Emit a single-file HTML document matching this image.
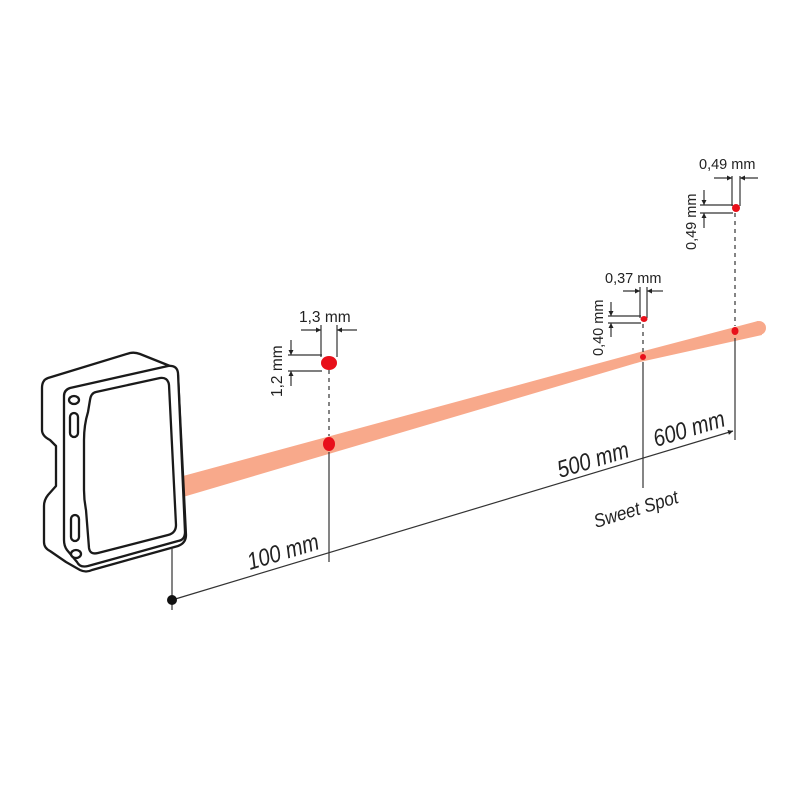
<!DOCTYPE html>
<html><head><style>
html,body{margin:0;padding:0;background:#fff;}
svg{display:block;}
text{font-family:"Liberation Sans",sans-serif;fill:#222;}
</style></head><body>
<svg width="800" height="800" viewBox="0 0 800 800" xmlns="http://www.w3.org/2000/svg">
<defs>
<marker id="ar" viewBox="0 0 10 10" refX="10" refY="5" markerWidth="7" markerHeight="5" orient="auto-start-reverse" markerUnits="userSpaceOnUse"><path d="M0,0 L10,5 L0,10 z" fill="#222"/></marker>
</defs>
<!-- beam -->
<polygon points="183,476 640,352 758,321 762,335 640,362 183,497" fill="#f8a98b"/>
<circle cx="759" cy="328" r="7" fill="#f8a98b"/>
<!-- sensor -->
<g fill="#fff" stroke="#1a1a1a" stroke-width="2.3" stroke-linejoin="round">
<path d="M48,378 Q42,380 42,388 L42,430 Q42,436 50,440 L56,446 L56,486 L48,495 Q44,500 44,506 L44,542 Q44,548 50,551 L66,562 L80,570 Q86,573 92,570 L178,546 Q186,543 186,535 L178,375 Q177,368 170,366 L140,354 Q135,352 130,353 Z"/>
<path d="M70,388 L168,366 Q177,365 178,373 L185,532 Q185,540 178,541 L88,566 Q80,568 77,562 L67,550 Q64,546 64,540 L64,396 Q64,390 70,388 Z"/>
<path d="M96,392 L160,378 Q168,377 169,385 L176,525 Q176,533 168,535 L98,553 Q90,555 89,548 L86,510 Q84,500 84,490 L84,440 Q84,425 88,412 L90,400 Q91,393 96,392 Z"/>
<ellipse cx="74" cy="400" rx="5" ry="4"/>
<rect x="70" y="413" width="8" height="24" rx="4"/>
<rect x="71" y="515" width="8" height="26" rx="4"/>
<ellipse cx="76" cy="554" rx="5" ry="4"/>
</g>
<!-- dimension lines -->
<g stroke="#333" stroke-width="1.2" fill="none">
<line x1="172" y1="548" x2="172" y2="610"/>
<line x1="172" y1="600" x2="733" y2="431" marker-end="url(#ar)"/>
<line x1="329" y1="452" x2="329" y2="562"/>
<line x1="643" y1="362" x2="643" y2="488"/>
<line x1="735" y1="338" x2="735" y2="440"/>
<g stroke-dasharray="4,4">
<line x1="329" y1="370" x2="329" y2="436"/>
<line x1="643" y1="324" x2="643" y2="354"/>
<line x1="735" y1="213" x2="735" y2="326"/>
</g>
<line x1="321" y1="325" x2="321" y2="357"/>
<line x1="337" y1="325" x2="337" y2="357"/>
<line x1="301" y1="330" x2="321" y2="330" marker-end="url(#ar)"/>
<line x1="357" y1="330" x2="337" y2="330" marker-end="url(#ar)"/>
<line x1="288" y1="355" x2="322" y2="355"/>
<line x1="288" y1="371" x2="322" y2="371"/>
<line x1="291" y1="340" x2="291" y2="355" marker-end="url(#ar)"/>
<line x1="291" y1="386" x2="291" y2="371" marker-end="url(#ar)"/>
<line x1="640" y1="287" x2="640" y2="318"/>
<line x1="647" y1="287" x2="647" y2="318"/>
<line x1="623" y1="291" x2="640" y2="291" marker-end="url(#ar)"/>
<line x1="663" y1="291" x2="647" y2="291" marker-end="url(#ar)"/>
<line x1="608" y1="316" x2="641" y2="316"/>
<line x1="608" y1="323" x2="641" y2="323"/>
<line x1="611" y1="302" x2="611" y2="316" marker-end="url(#ar)"/>
<line x1="611" y1="337" x2="611" y2="323" marker-end="url(#ar)"/>
<line x1="732" y1="176" x2="732" y2="206"/>
<line x1="740" y1="176" x2="740" y2="206"/>
<line x1="714" y1="178" x2="732" y2="178" marker-end="url(#ar)"/>
<line x1="758" y1="178" x2="740" y2="178" marker-end="url(#ar)"/>
<line x1="700" y1="205" x2="733" y2="205"/>
<line x1="700" y1="213" x2="733" y2="213"/>
<line x1="704" y1="190" x2="704" y2="205" marker-end="url(#ar)"/>
<line x1="704" y1="228" x2="704" y2="213" marker-end="url(#ar)"/>
</g>
<circle cx="172" cy="600" r="5" fill="#111"/>
<g fill="#e8101a">
<ellipse cx="329" cy="444" rx="6" ry="7"/>
<ellipse cx="329" cy="363" rx="8" ry="7"/>
<ellipse cx="643" cy="357" rx="3" ry="3"/>
<ellipse cx="644" cy="319" rx="3.5" ry="3"/>
<ellipse cx="735" cy="331" rx="3.5" ry="4"/>
<ellipse cx="736" cy="208" rx="4" ry="4"/>
</g>
<text x="299" y="322" font-size="15.5">1,3 mm</text>
<text transform="translate(282,397) rotate(-90)" font-size="15.5">1,2 mm</text>
<text x="605" y="283" font-size="14.5">0,37 mm</text>
<text transform="translate(603,356) rotate(-90)" font-size="14.5">0,40 mm</text>
<text x="699" y="169" font-size="14.5">0,49 mm</text>
<text transform="translate(696,250) rotate(-90)" font-size="14.5">0,49 mm</text>
<g font-size="24" font-style="italic">
<text transform="translate(250,570) rotate(-16.8) scale(0.85,1)">100 mm</text>
<text transform="translate(560,478) rotate(-16.8) scale(0.85,1)">500 mm</text>
<text transform="translate(656,447) rotate(-16.8) scale(0.85,1)">600 mm</text>
</g>
<text transform="translate(596,528) rotate(-17) scale(0.9,1)" font-size="19" font-style="italic">Sweet Spot</text>
</svg>
</body></html>
